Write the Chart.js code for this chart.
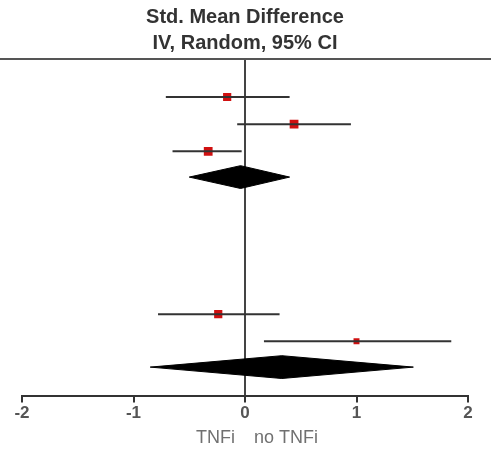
<!DOCTYPE html>
<html>
<head>
<meta charset="utf-8">
<script src="https://cdn.jsdelivr.net/npm/chart.js@4.4.0/dist/chart.umd.min.js"></script>
<style>
  html, body { margin: 0; padding: 0; background: #fff; }
  #wrap { width: 491px; height: 450px; }
</style>
</head>
<body>
<div id="wrap"><canvas id="forest"></canvas></div>
<script>
// study rows (top to bottom), SMD estimates and 95% CI
const studyRows = [1.4, 2.4, 3.4, 9.4, 10.4];
const studyEst = [-0.16, 0.44, -0.33, -0.24, 1.00];
const studyLow = [-0.71, -0.07, -0.65, -0.78, 0.17];
const studyHigh = [0.40, 0.95, -0.03, 0.31, 1.85];
const studySize = [5.8, 6.2, 6.2, 5.8, 4.2];

// pooled (random effects) subtotals
const poolRows = [4.35, 11.35];
const poolEst = [-0.04, 0.33];
const poolLow = [-0.50, -0.85];
const poolHigh = [0.40, 1.51];

const xTicks = [-2, -1, 0, 1, 2];
const leftLabel = 'TNFi';
const rightLabel = 'no TNFi';

const ink = '#333333';
const datasets = [];

// confidence interval whiskers
studyRows.forEach((r, i) => {
  datasets.push({
    type: 'line',
    data: [{ x: studyLow[i], y: r }, { x: studyHigh[i], y: r }],
    borderColor: ink,
    borderWidth: 2,
    pointRadius: 0,
    fill: false
  });
});

// diamonds
poolRows.forEach((r, i) => {
  datasets.push({
    type: 'line',
    data: [
      { x: poolLow[i], y: r },
      { x: poolEst[i], y: r - 0.42 },
      { x: poolHigh[i], y: r },
      { x: poolEst[i], y: r + 0.42 },
      { x: poolLow[i], y: r }
    ],
    borderColor: '#000',
    backgroundColor: '#000',
    borderWidth: 1,
    pointRadius: 0,
    tension: 0,
    fill: 'shape'
  });
});

// line of no effect
datasets.push({
  type: 'line',
  data: [{ x: 0, y: 0 }, { x: 0, y: 12.4 }],
  borderColor: '#444',
  borderWidth: 2,
  pointRadius: 0
});

// point estimates
datasets.push({
  type: 'scatter',
  data: studyRows.map((r, i) => ({ x: studyEst[i], y: r })),
  pointStyle: 'rect',
  pointRadius: studySize,
  backgroundColor: '#d01010',
  borderColor: '#c00000',
  borderWidth: 0
});

const decor = {
  id: 'decor',
  afterDraw(chart) {
    const { ctx, chartArea, scales } = chart;
    ctx.save();
    ctx.strokeStyle = '#555';
    ctx.lineWidth = 2;
    ctx.beginPath();
    ctx.moveTo(0, chartArea.top);
    ctx.lineTo(chart.width, chartArea.top);
    ctx.stroke();
    const x0 = scales.x.getPixelForValue(0);
    ctx.fillStyle = '#707070';
    ctx.font = '18px "Liberation Sans", Arial, sans-serif';
    ctx.textBaseline = 'middle';
    ctx.textAlign = 'right';
    ctx.fillText(leftLabel, x0 - 10, 438);
    ctx.textAlign = 'left';
    ctx.fillText(rightLabel, x0 + 9, 438);
    ctx.restore();
  }
};

new Chart(document.getElementById('forest').getContext('2d'), {
  data: { datasets },
  plugins: [decor],
  options: {
    responsive: true,
    maintainAspectRatio: false,
    animation: false,
    layout: { padding: { left: 22, right: 23, top: 4, bottom: 25 } },
    scales: {
      x: {
        type: 'linear',
        min: -2,
        max: 2,
        afterBuildTicks: (axis) => { axis.ticks = xTicks.map(v => ({ value: v })); },
        grid: { drawOnChartArea: false, tickLength: 7, color: ink, lineWidth: 2 },
        border: { color: ink, width: 2 },
        ticks: {
          color: '#555',
          padding: 1,
          maxRotation: 0,
          font: { family: '"Liberation Sans", Arial, sans-serif', size: 17, weight: 'bold' }
        }
      },
      y: {
        type: 'linear',
        display: false,
        reverse: true,
        min: 0,
        max: 12.4
      }
    },
    plugins: {
      legend: { display: false },
      tooltip: { enabled: false },
      title: {
        display: true,
        text: ['Std. Mean Difference', 'IV, Random, 95% CI'],
        color: '#333',
        font: { family: '"Liberation Sans", Arial, sans-serif', size: 20, weight: 'bold', lineHeight: 1.3 },
        padding: { top: 0, bottom: 3 }
      }
    }
  }
});
</script>
</body>
</html>
